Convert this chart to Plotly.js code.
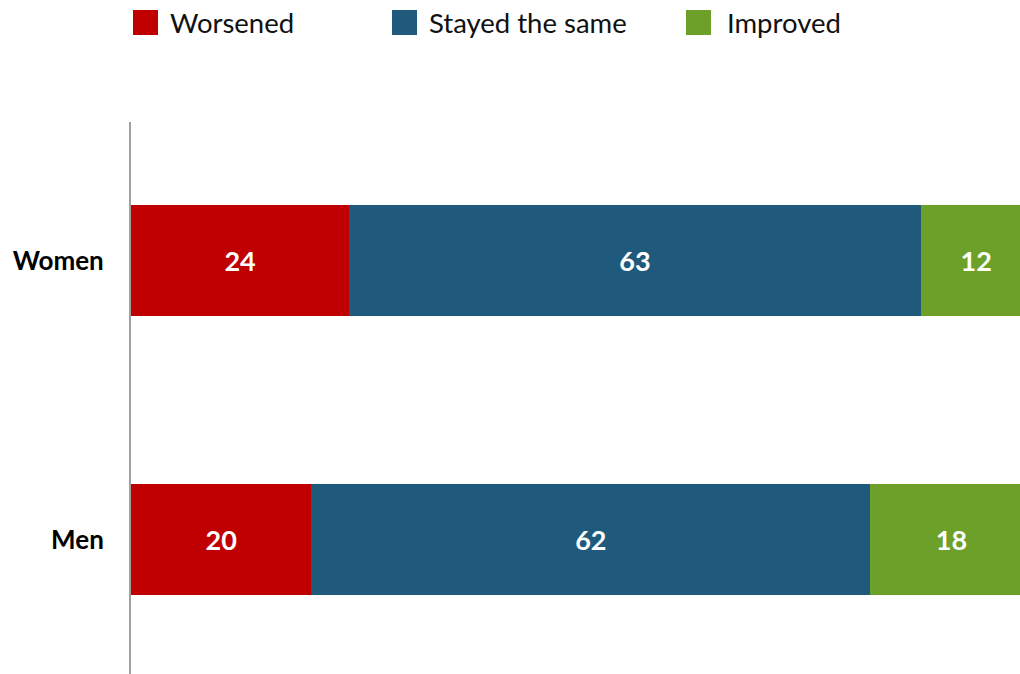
<!DOCTYPE html>
<html>
<head>
<meta charset="utf-8">
<script src="https://cdn.plot.ly/plotly-3.0.1.min.js"></script>
<style>html,body{margin:0;padding:0;background:#fff;}#chart{width:1020px;height:674px;}</style>
</head>
<body>
<div id="chart"></div>
<script>
const categories = ["Women", "Men"];
const seriesNames = ["Worsened", "Stayed the same", "Improved"];
const worsened = [24.2, 20];
const stayedSame = [63.4, 62];
const improved = [12.3, 18];
const seriesColors = ["#C00000", "#1F5A7C", "#6DA028"];

const W = 1020, H = 674;
const M = {l: 131, r: 0, t: 122, b: 0};
const pw = W - M.l - M.r, ph = H - M.t - M.b;
const px = x => (x - M.l) / pw;
const py = y => (H - M.b - y) / ph;

const FONT = "Lato, 'Open Sans', sans-serif";
const values = [worsened, stayedSame, improved];

const traces = values.map((v, i) => ({
  type: "bar",
  orientation: "h",
  name: seriesNames[i],
  y: categories,
  x: v,
  marker: {color: seriesColors[i], line: {width: 0}},
  texttemplate: "%{x:.0f}",
  textposition: "inside",
  insidetextanchor: "middle",
  constraintext: "none",
  textfont: {family: FONT, size: 27, color: "#ffffff", weight: "bold"},
  hoverinfo: "skip"
}));

const legendX = [133, 392, 686];
const legendTextX = [168, 427, 725];
const shapes = [], annotations = [];
seriesNames.forEach((n, i) => {
  shapes.push({type: "rect", xref: "paper", yref: "paper",
    x0: px(legendX[i]), x1: px(legendX[i] + 25), y0: py(35), y1: py(10),
    fillcolor: seriesColors[i], line: {width: 0}});
  annotations.push({xref: "paper", yref: "paper", x: px(legendTextX[i]), y: py(22),
    xanchor: "left", yanchor: "middle", text: n, showarrow: false,
    font: {family: FONT, size: 27.5, color: "#111111"}});
});

const layout = {
  width: W, height: H,
  margin: M,
  paper_bgcolor: "#ffffff", plot_bgcolor: "#ffffff",
  barmode: "stack",
  bargap: 0.6,
  showlegend: false,
  font: {family: FONT},
  xaxis: {range: [0, 98.6], showgrid: false, zeroline: false, showline: false, showticklabels: false, ticks: ""},
  yaxis: {categoryorder: "array", categoryarray: categories.slice().reverse(), range: [-0.482, 1.496],
    showgrid: false, zeroline: false, showline: true, linecolor: "#A0A0A0", linewidth: 2,
    ticks: "", ticklabelstandoff: 20,
    tickfont: {family: FONT, size: 26, color: "#000000", weight: "bold"}},
  shapes: shapes,
  annotations: annotations
};

Plotly.newPlot("chart", traces, layout, {staticPlot: true, displayModeBar: false});
</script>
</body>
</html>
